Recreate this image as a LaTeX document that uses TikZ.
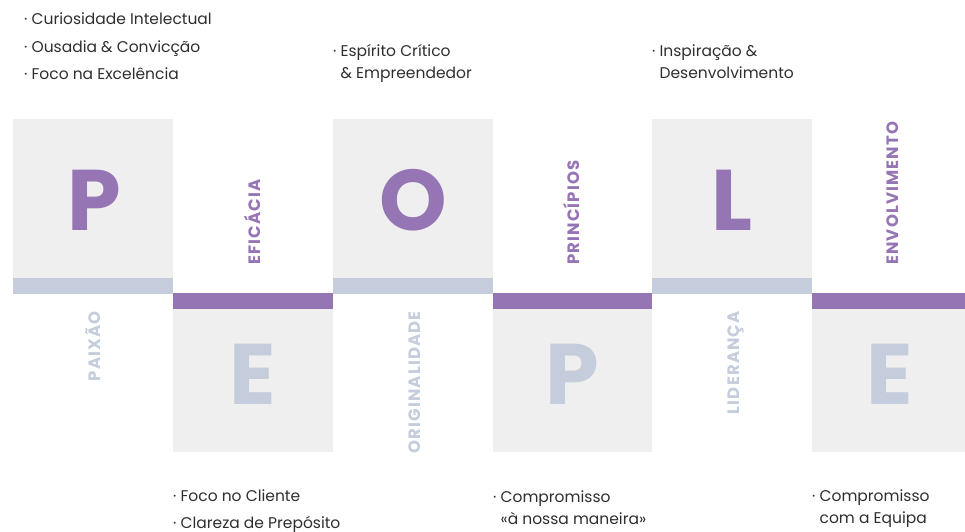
\documentclass[tikz,border=0pt]{standalone}
\usepackage{fontspec}
\setmainfont{Poppins}
\definecolor{pviolet}{HTML}{9575B3}
\definecolor{pgrey}{HTML}{C5CCDB}
\definecolor{pbox}{HTML}{EFEFEF}
\definecolor{ptext}{HTML}{2E2E2E}
\begin{document}
\begin{tikzpicture}[x=1pt,y=-1pt,
  panel/.style={fill=pbox},
  greybar/.style={fill=pgrey},
  violetbar/.style={fill=pviolet},
  bigletter/.style={font=\fontsize{86}{86}\selectfont\bfseries, inner sep=0pt, anchor=base},
  vword/.style={font=\fontsize{16.5}{16.5}\selectfont\bfseries\addfontfeatures{LetterSpace=7}, inner sep=0pt, rotate=90},
  upword/.style={vword, text=pviolet, anchor=base west},
  downword/.style={vword, text=pgrey, anchor=base east},
  item/.style={font=\fontsize{15.5}{22}\selectfont, text=ptext, inner sep=0pt, anchor=base west, align=left}]
\useasboundingbox (0,0) rectangle (965,531);

% upper panels with their grey bars
\foreach \x in {13,333,652}{
  \fill[panel] (\x,119) rectangle ++(160,159);
  \fill[greybar] (\x,278) rectangle ++(160,16);
}
% lower panels with their violet bars
\foreach \x/\w in {173/160,493/159,812/153}{
  \fill[violetbar] (\x,293) rectangle ++(\w,16);
  \fill[panel] (\x,309) rectangle ++(\w,143);
}

% the letters
\node[bigletter, text=pviolet] (l1) at (94,230) {P};
\node[bigletter, text=pgrey]   (l2) at (253,404) {E};
\node[bigletter, text=pviolet] (l3) at (413,230) {O};
\node[bigletter, text=pgrey]   (l4) at (572,404) {P};
\node[bigletter, text=pviolet] (l5) at (732,230) {L};
\node[bigletter, text=pgrey]   (l6) at (890,404) {E};

% the words, read upwards
\node[upword]   (w2) at (260,265) {EFICÁCIA};
\node[upword]   (w4) at (579.5,265) {PRINCÍPIOS};
\node[upword]   (w6) at (898,265) {ENVOLVIMENTO};
\node[downword] (w1) at (100,311) {PAIXÃO};
\node[downword] (w3) at (420,311) {ORIGINALIDADE};
\node[downword] (w5) at (739,311) {LIDERANÇA};

% values above and below (base anchor sits on the last line)
\node[item] (t1) at (24,24.5) {· Curiosidade Intelectual};
\node[item] (t2) at (24,52) {· Ousadia \& Convicção};
\node[item] (t3) at (24,79) {· Foco na Excelência};
\node[item] (t4) at (333,78.5) {· Espírito Crítico\\\hphantom{· }\& Empreendedor};
\node[item] (t5) at (652,78.5) {· Inspiração \&\\\hphantom{· }Desenvolvimento};
\node[item] (b1) at (173,501.5) {· Foco no Cliente};
\node[item] (b2) at (173,528.5) {· Clareza de Prepósito};
\node[item] (b3) at (493,524) {· Compromisso\\\hphantom{· }«à nossa maneira»};
\node[item] (b4) at (812,523.5) {· Compromisso\\\hphantom{· }com a Equipa};
\end{tikzpicture}
\end{document}
